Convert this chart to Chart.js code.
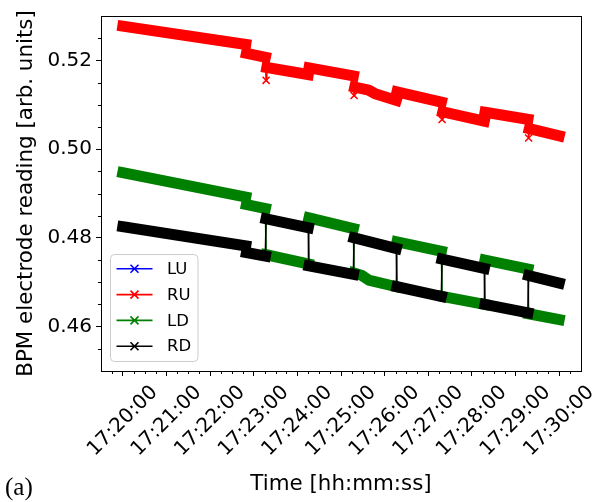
<!DOCTYPE html>
<html>
<head>
<meta charset="utf-8">
<title>BPM electrode reading</title>
<script src="https://cdn.jsdelivr.net/npm/chart.js@4.4.0/dist/chart.umd.min.js"></script>
<style>
  html, body { margin: 0; padding: 0; background: #fff; }
  #wrap { width: 603px; height: 502px; }
</style>
</head>
<body>
<div id="wrap"><canvas id="bpmChart" width="603" height="502"></canvas></div>
<script>
// x values are seconds after 17:20:00
const xTickSeconds = [0, 60, 120, 180, 240, 300, 360, 420, 480, 540, 600];
const xTickLabels = ['17:20:00', '17:21:00', '17:22:00', '17:23:00', '17:24:00', '17:25:00',
                     '17:26:00', '17:27:00', '17:28:00', '17:29:00', '17:30:00'];
const yTickValues = [0.46, 0.48, 0.50, 0.52];

const seriesNames = ['LU', 'RU', 'LD', 'RD'];
const seriesColors = ['#0000ff', '#ff0000', '#008000', '#000000'];

const luTime = [];
const luValue = [];

const ruTime = [0, 169, 170, 196, 197, 198, 255, 256, 317, 318, 319, 338, 348, 376, 377,
                438, 439, 440, 497, 498, 557, 558, 559, 600];
const ruValue = [0.5277, 0.5236, 0.5216, 0.5207, 0.5155, 0.5184, 0.5168, 0.5183, 0.5165, 0.5121,
                 0.5140, 0.5133, 0.5124, 0.5110, 0.5129, 0.5106, 0.5067, 0.5084, 0.5063, 0.5083,
                 0.5067, 0.5025, 0.5046, 0.5030];
const ruSpikes = [197, 318, 439, 558];

const ldTime = [0, 169, 170, 196, 197, 255, 256, 317, 318, 328, 338, 376, 377, 438, 439, 497,
                498, 557, 558, 600];
const ldValue = [0.4947, 0.4892, 0.4875, 0.4866, 0.4762, 0.4741, 0.4845, 0.4821, 0.4721, 0.4716,
                 0.4705, 0.4690, 0.4791, 0.4770, 0.4668, 0.4650, 0.4750, 0.4730, 0.4629, 0.4616];

const rdTime = [0, 169, 170, 196, 197, 255, 256, 317, 318, 376, 377, 438, 439, 497, 498, 557,
                558, 600];
const rdValue = [0.4825, 0.4782, 0.4767, 0.4759, 0.4843, 0.4823, 0.4737, 0.4718, 0.4800, 0.4776,
                 0.4690, 0.4668, 0.4752, 0.4731, 0.4650, 0.4631, 0.4715, 0.4698];

const FONT = '"DejaVu Sans", sans-serif';
const BAND = 11;

function toPoints(ts, vs) {
  return ts.map((t, i) => ({ x: t, y: vs[i] }));
}

function makeSeries(i, ts, vs, order) {
  return {
    label: seriesNames[i],
    data: toPoints(ts, vs),
    borderColor: seriesColors[i],
    backgroundColor: seriesColors[i],
    borderWidth: BAND,
    borderCapStyle: 'square',
    borderJoinStyle: 'bevel',
    pointStyle: 'crossRot',
    pointRadius: 0,
    pointBorderWidth: 1.5,
    pointBorderColor: seriesColors[i],
    order: order,
    // jumps between readings are thin lines, the readings themselves a thick band
    segment: {
      borderWidth: ctx => (ctx.p1.parsed.x - ctx.p0.parsed.x) < 3 ? 1.6 : BAND
    }
  };
}

const datasets = [
  makeSeries(0, luTime, luValue, 3),
  makeSeries(1, ruTime, ruValue, 2),
  makeSeries(2, ldTime, ldValue, 1),
  makeSeries(3, rdTime, rdValue, 0)
];
datasets[1].pointRadius = ctx => (ctx.raw && ruSpikes.includes(ctx.raw.x)) ? 5 : 0;

// minor ticks, frame, rotated time labels, legend box and panel tag
const axesExtras = {
  id: 'axesExtras',
  afterDatasetsDraw(chart) {
    const ctx = chart.ctx;
    const a = chart.chartArea;
    const xs = chart.scales.x;
    const ys = chart.scales.y;
    ctx.save();
    ctx.strokeStyle = '#000';
    ctx.lineWidth = 1;
    ctx.beginPath();
    for (let s = -15; s < 630; s += 15) {
      if (s % 60 === 0) continue;
      const px = Math.round(xs.getPixelForValue(s)) + 0.5;
      ctx.moveTo(px, a.bottom);
      ctx.lineTo(px, a.bottom + 3);
    }
    for (let k = 91; k < 106; k++) {
      if (k % 4 === 0) continue;
      const py = Math.round(ys.getPixelForValue(k * 0.005)) + 0.5;
      ctx.moveTo(a.left, py);
      ctx.lineTo(a.left - 3, py);
    }
    ctx.stroke();
    ctx.strokeRect(a.left + 0.5, a.top + 0.5, a.right - a.left, a.bottom - a.top);
    ctx.restore();
  },
  afterDraw(chart) {
    const ctx = chart.ctx;
    const a = chart.chartArea;
    const xs = chart.scales.x;

    // time labels, rotated 45 degrees and centred under their ticks
    const size = 20;
    ctx.save();
    ctx.font = size + 'px ' + FONT;
    ctx.fillStyle = '#000';
    ctx.textAlign = 'center';
    ctx.textBaseline = 'middle';
    xTickSeconds.forEach((s, i) => {
      const label = xTickLabels[i];
      const w = ctx.measureText(label).width;
      const half = (w + size * 1.16) * Math.SQRT1_2 / 2;
      ctx.save();
      ctx.translate(xs.getPixelForValue(s), a.bottom + 10 + half);
      ctx.rotate(-Math.PI / 4);
      ctx.fillText(label, 0, 0);
      ctx.restore();
    });
    ctx.restore();

    // legend
    const bx = a.left + 9.5, bh = 107, by = a.bottom - 9.5 - bh, bw = 87.5;
    ctx.save();
    ctx.beginPath();
    ctx.roundRect(bx, by, bw, bh, 4);
    ctx.fillStyle = 'rgba(255,255,255,0.8)';
    ctx.fill();
    ctx.strokeStyle = '#cccccc';
    ctx.lineWidth = 1;
    ctx.stroke();
    ctx.font = '16.5px ' + FONT;
    ctx.textAlign = 'left';
    ctx.textBaseline = 'middle';
    chart.data.datasets.forEach((ds, i) => {
      const y = by + 14.3 + i * 25.8;
      ctx.strokeStyle = ds.borderColor;
      ctx.lineWidth = 1.6;
      ctx.beginPath();
      ctx.moveTo(bx + 6, y);
      ctx.lineTo(bx + 42, y);
      const c = bx + 24, r = 4;
      ctx.moveTo(c - r, y - r);
      ctx.lineTo(c + r, y + r);
      ctx.moveTo(c - r, y + r);
      ctx.lineTo(c + r, y - r);
      ctx.stroke();
      ctx.fillStyle = '#000';
      ctx.fillText(ds.label, bx + 56.5, y + 1);
    });
    ctx.restore();

    ctx.save();
    ctx.font = '25px "Liberation Serif", serif';
    ctx.fillStyle = '#000';
    ctx.textBaseline = 'alphabetic';
    ctx.fillText('(a)', 5, 495);
    ctx.restore();
  }
};

new Chart(document.getElementById('bpmChart'), {
  type: 'line',
  data: { datasets: datasets },
  options: {
    responsive: false,
    animation: false,
    devicePixelRatio: 1,
    events: [],
    layout: { padding: { top: 13, right: 22, left: 0, bottom: 0 } },
    plugins: {
      legend: { display: false },
      tooltip: { enabled: false }
    },
    scales: {
      x: {
        type: 'linear',
        min: -30,
        max: 630,
        afterBuildTicks: scale => { scale.ticks = xTickSeconds.map(v => ({ value: v })); },
        afterFit: scale => { scale.height = 131; },
        ticks: { display: false },
        grid: { drawOnChartArea: false, drawTicks: true, tickLength: 5, color: '#000', lineWidth: 1 },
        border: { display: false },
        title: {
          display: true,
          text: 'Time [hh:mm:ss]',
          color: '#000',
          font: { family: FONT, size: 21.4 },
          padding: { top: 0, bottom: 5 }
        }
      },
      y: {
        type: 'linear',
        min: 0.45,
        max: 0.53,
        afterBuildTicks: scale => { scale.ticks = yTickValues.map(v => ({ value: v })); },
        afterFit: scale => { scale.width = 101; },
        ticks: {
          color: '#000',
          padding: 4,
          font: { family: FONT, size: 20 },
          callback: v => v.toFixed(2)
        },
        grid: { drawOnChartArea: false, drawTicks: true, tickLength: 5, color: '#000', lineWidth: 1 },
        border: { display: false },
        title: {
          display: true,
          text: 'BPM electrode reading [arb. units]',
          color: '#000',
          font: { family: FONT, size: 21.4 },
          padding: { top: 14, bottom: 0 }
        }
      }
    }
  },
  plugins: [axesExtras]
});
</script>
</body>
</html>
